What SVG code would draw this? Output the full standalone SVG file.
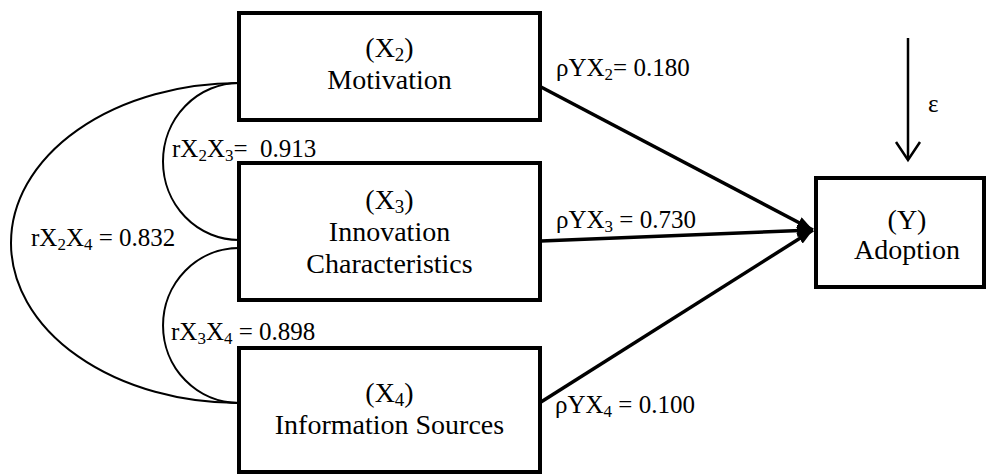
<svg xmlns="http://www.w3.org/2000/svg" width="991" height="475" viewBox="0 0 991 475">
<defs>
<style>
.box{fill:#fff;stroke:#000;stroke-width:4}
.t{font-size:28px;fill:#000;text-anchor:middle}
.l{font-size:25px;fill:#000}
.corr{fill:none;stroke:#000;stroke-width:2}
.path{fill:none;stroke:#000;stroke-width:3.5}
</style>
<marker id="ah" viewBox="0 0 16 12" refX="16" refY="6" markerWidth="16" markerHeight="12" markerUnits="userSpaceOnUse" orient="auto">
<path d="M0,0 L16,6 L0,12 Z" fill="#000"/>
</marker>
</defs>
<g font-family="Liberation Serif, Times New Roman, serif">
<g id="connectors">
<path class="corr" d="M239,83 A228,160 0 0 0 239,403"/>
<path class="corr" d="M239,83 A76,78.5 0 0 0 239,240"/>
<path class="corr" d="M239,248 A76,77.5 0 0 0 239,403"/>
<line class="path" x1="541" y1="87" x2="813" y2="230" marker-end="url(#ah)"/>
<line class="path" x1="541" y1="241" x2="813" y2="230" marker-end="url(#ah)"/>
<line class="path" x1="541" y1="402" x2="813" y2="230" marker-end="url(#ah)"/>
<line x1="908" y1="38" x2="908" y2="159" stroke="#000" stroke-width="2.5"/>
<polyline points="896,142 908,160 920,142" fill="none" stroke="#000" stroke-width="2.5"/>
<text class="l" x="556" y="76">ρYX<tspan font-size="17" dy="4">2</tspan><tspan dy="-4">= 0.180</tspan></text>
<text class="l" x="556" y="228">ρYX<tspan font-size="17" dy="4">3</tspan><tspan dy="-4"> = 0.730</tspan></text>
<text class="l" x="555" y="413">ρYX<tspan font-size="17" dy="4">4</tspan><tspan dy="-4"> = 0.100</tspan></text>
<text class="l" x="172" y="157">rX<tspan font-size="17" dy="4">2</tspan><tspan dy="-4">X</tspan><tspan font-size="17" dy="4">3</tspan><tspan dy="-4" xml:space="preserve">=  0.913</tspan></text>
<text class="l" x="31" y="246">rX<tspan font-size="17" dy="4">2</tspan><tspan dy="-4">X</tspan><tspan font-size="17" dy="4">4</tspan><tspan dy="-4"> = 0.832</tspan></text>
<text class="l" x="171" y="340">rX<tspan font-size="17" dy="4">3</tspan><tspan dy="-4">X</tspan><tspan font-size="17" dy="4">4</tspan><tspan dy="-4"> = 0.898</tspan></text>
<text class="l" x="928" y="112">ε</text>
</g>
<g id="x2">
<rect class="box" x="239" y="13" width="301" height="107"/>
<text class="t" x="389.5" y="57">(X<tspan font-size="19" dy="4">2</tspan><tspan dy="-4">)</tspan></text>
<text class="t" x="389.5" y="89">Motivation</text>
</g>
<g id="x3">
<rect class="box" x="239" y="163" width="301" height="137"/>
<text class="t" x="389.5" y="209">(X<tspan font-size="19" dy="4">3</tspan><tspan dy="-4">)</tspan></text>
<text class="t" x="389.5" y="241">Innovation</text>
<text class="t" x="389.5" y="273">Characteristics</text>
</g>
<g id="x4">
<rect class="box" x="239" y="348" width="301" height="124"/>
<text class="t" x="389.5" y="402">(X<tspan font-size="19" dy="4">4</tspan><tspan dy="-4">)</tspan></text>
<text class="t" x="389.5" y="434">Information Sources</text>
</g>
<g id="y">
<rect class="box" x="816" y="178" width="168" height="109"/>
<text class="t" x="907" y="229">(Y)</text>
<text class="t" x="907" y="259">Adoption</text>
</g>
</g>
</svg>
